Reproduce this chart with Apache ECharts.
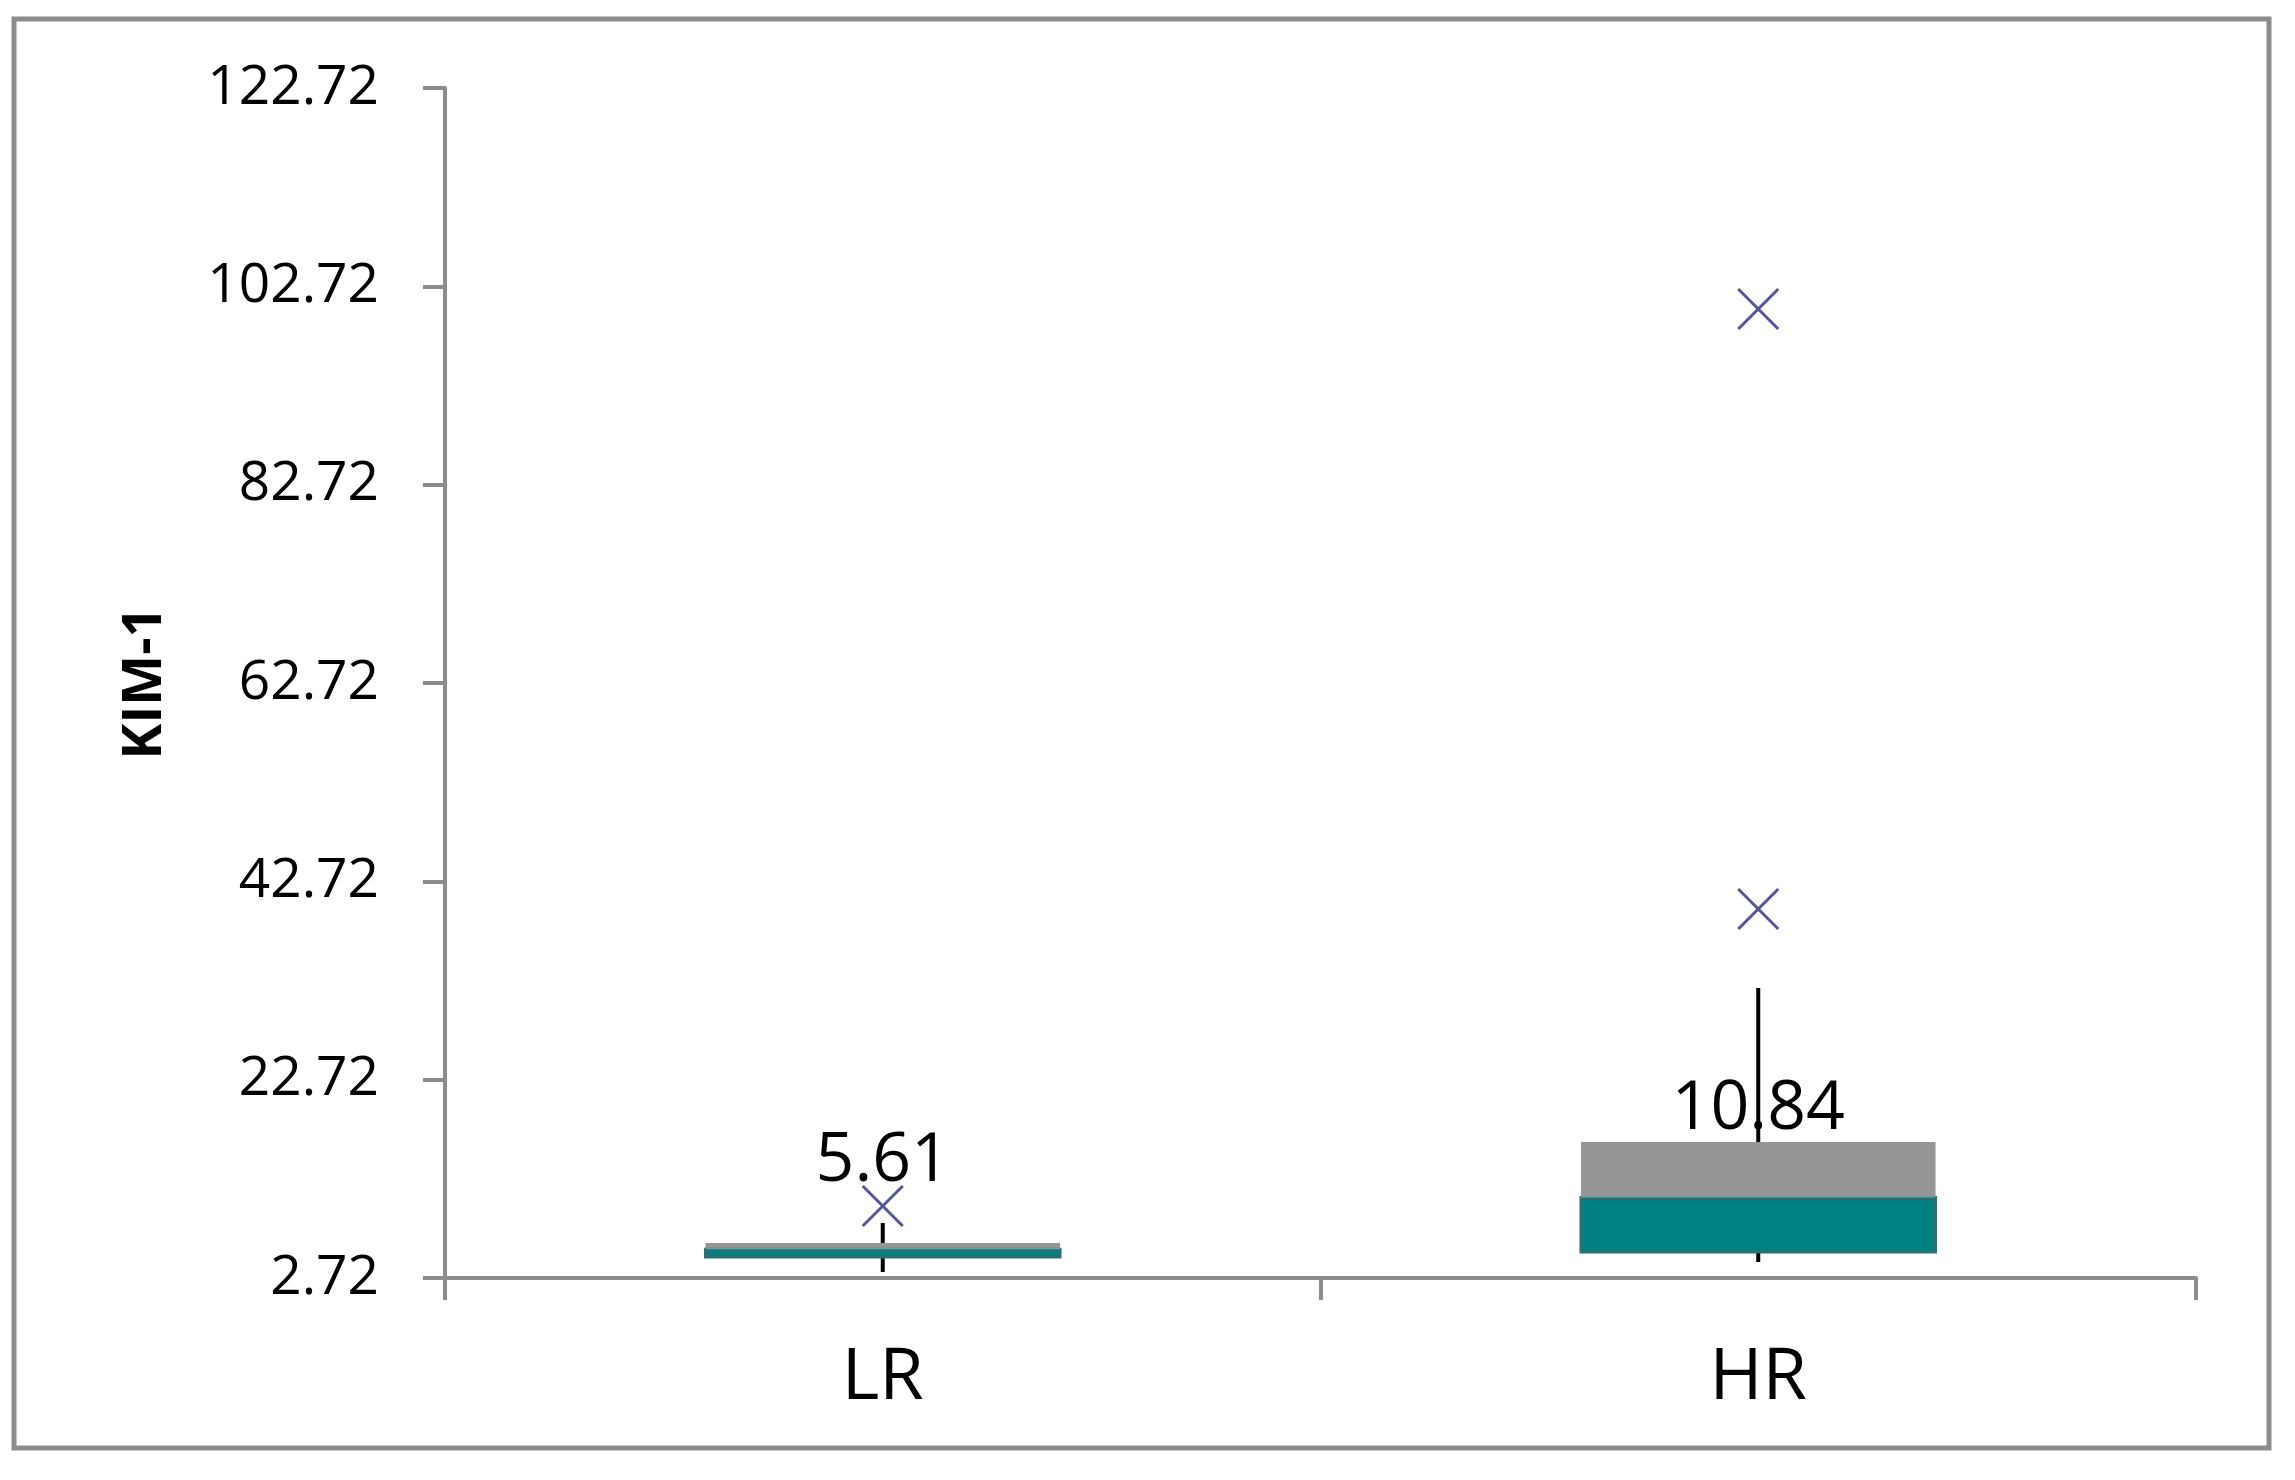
<!DOCTYPE html>
<html>
<head>
<meta charset="utf-8">
<script src="https://cdn.jsdelivr.net/npm/echarts@6/dist/echarts.min.js"></script>
<style>html,body{margin:0;padding:0;background:#fff;}#c{width:2295px;height:1480px;}</style>
</head>
<body>
<div id="c"></div>
<script>
const categories = ['LR', 'HR'];
const whiskerMin = [3.33, 4.33];
const q1 = [4.84, 5.34];
const median = [5.61, 10.84];
const q3 = [6.25, 16.43];
const whiskerMax = [8.27, 31.96];
const outlierCategory = ['LR', 'HR', 'HR'];
const outlierValue = [9.98, 39.93, 100.43];
const yTicks = [2.72, 22.72, 42.72, 62.72, 82.72, 102.72, 122.72];
const medianLabels = ['5.61', '10.84'];

const FONT = '"Open Sans", "Liberation Sans", sans-serif';
const chart = echarts.init(document.getElementById('c'), null, {renderer: 'canvas'});

const boxData = categories.map((c, i) => [i, whiskerMin[i], q1[i], median[i], q3[i], whiskerMax[i]]);

const option = {
  animation: false,
  backgroundColor: '#ffffff',
  graphic: [{
    type: 'rect', shape: {x: 14, y: 19, width: 2255, height: 1429},
    style: {fill: 'none', stroke: '#8c8c8c', lineWidth: 5}, z: 0
  }],
  grid: {left: 445, right: 99, top: 88, bottom: 202},
  xAxis: {
    type: 'category', data: categories,
    axisLine: {lineStyle: {color: '#8c8c8c', width: 4}},
    axisTick: {show: true, length: 22, lineStyle: {color: '#8c8c8c', width: 4}},
    axisLabel: {color: '#000', fontSize: 72, fontFamily: FONT, margin: 64}
  },
  yAxis: {
    type: 'value', min: 2.72, max: 122.72,
    name: 'KIM-1', nameLocation: 'middle', nameRotate: 90, nameGap: 272,
    nameTextStyle: {color: '#000', fontSize: 54, fontWeight: 'bold', fontFamily: FONT},
    axisLine: {show: true, lineStyle: {color: '#8c8c8c', width: 4}},
    axisTick: {show: true, length: 22, customValues: yTicks, lineStyle: {color: '#8c8c8c', width: 4}},
    axisLabel: {color: '#000', fontSize: 55, fontFamily: FONT, margin: 66, customValues: yTicks,
      padding: [12, 0, 0, 0],
      formatter: v => Number(v).toFixed(2)},
    splitLine: {show: false}
  },
  series: [
    {
      type: 'custom',
      data: boxData,
      encode: {x: 0, y: [1, 2, 3, 4, 5]},
      renderItem: function (params, api) {
        const x = api.value(0);
        const pMin = api.coord([x, api.value(1)]);
        const pQ1 = api.coord([x, api.value(2)]);
        const pMed = api.coord([x, api.value(3)]);
        const pQ3 = api.coord([x, api.value(4)]);
        const pMax = api.coord([x, api.value(5)]);
        const bw = api.size([1, 0])[0] * 0.405;
        const cx = pMed[0];
        return {
          type: 'group',
          children: [
            {type: 'line', shape: {x1: cx, y1: pMax[1], x2: cx, y2: pMin[1]},
              style: {stroke: '#000', lineWidth: 4}},
            {type: 'rect', shape: {x: cx - bw / 2, y: pQ3[1], width: bw, height: pMed[1] - pQ3[1]},
              style: {fill: '#969696'}},
            {type: 'rect', shape: {x: cx - bw / 2, y: pMed[1], width: bw, height: pQ1[1] - pMed[1]},
              style: {fill: '#008080', stroke: '#356e6e', lineWidth: 3}},
            {type: 'line', shape: {x1: cx - bw / 2, y1: pMed[1] - 1, x2: cx + bw / 2, y2: pMed[1] - 1},
              style: {stroke: '#5fa6a6', lineWidth: 2}},
            {type: 'text', x: cx, y: pMed[1] - 88,
              style: {text: medianLabels[params.dataIndex], fill: '#000', fontSize: 68,
                fontFamily: FONT, align: 'center', verticalAlign: 'middle'}}
          ]
        };
      },
      z: 2
    },
    {
      type: 'scatter',
      data: outlierCategory.map((c, i) => [c, outlierValue[i]]),
      symbol: 'path://M0,0L10,10M10,0L0,10',
      symbolSize: 40,
      itemStyle: {color: 'rgba(0,0,0,0)', borderColor: '#2a2a80', borderWidth: 3},
      z: 3
    }
  ]
};
chart.setOption(option);
</script>
</body>
</html>
